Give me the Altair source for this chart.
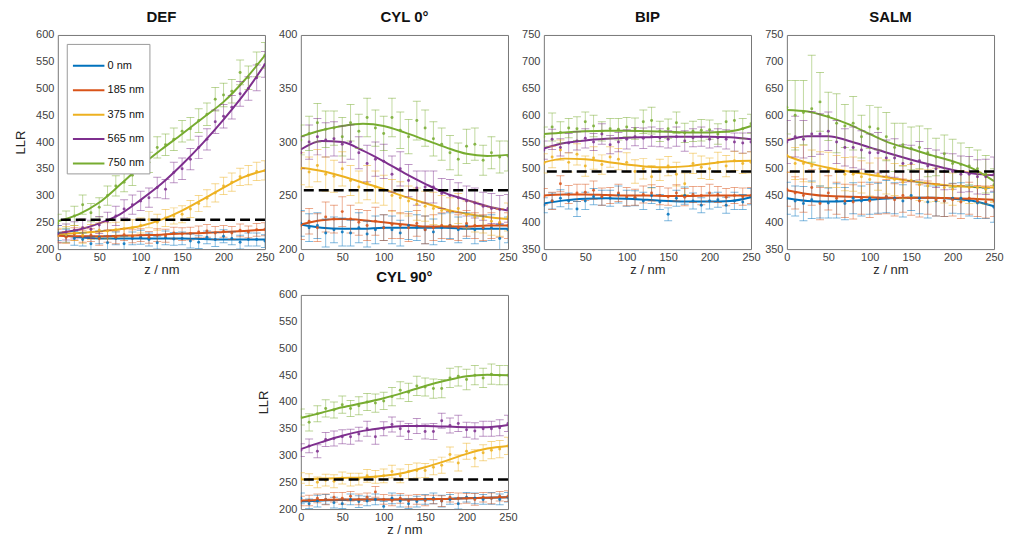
import altair as alt
import pandas as pd

SERIES = ["0 nm", "185 nm", "375 nm", "565 nm", "750 nm"]
COLORS = ["#0072BD", "#D95319", "#EDB120", "#7E2F8E", "#77AC30"]

Z_FIT = [0, 25, 50, 75, 100, 125, 150, 175, 200, 225, 250]
Z_PTS = [0, 10, 20, 30, 40, 50, 60, 70, 80, 90, 100, 110, 120, 130, 140, 150,
         160, 170, 180, 190, 200, 210, 220, 230, 240, 250]
X_TICKS = [0, 50, 100, 150, 200, 250]

# ---------------- DEF ----------------
DEF_FIT = [
    [228, 222, 220, 220, 220, 220, 220, 219, 218, 218, 218],
    [225, 224, 224, 225, 226, 227, 229, 230, 232, 234, 236],
    [228, 230, 233, 237, 243, 255, 272, 293, 315, 335, 347],
    [230, 236, 248, 265, 292, 322, 358, 398, 442, 490, 545],
    [252, 265, 287, 320, 355, 386, 415, 445, 475, 515, 562],
]
DEF_PTS = [
    [230, 225, 220, 218, 210, 222, 212, 220, 210, 220, 222, 218, 212, 221, 219, 220, 215, 213, 222, 218, 224, 220, 213, 218, 218, 215],
    [225, 222, 228, 224, 226, 220, 224, 222, 227, 224, 226, 222, 226, 225, 230, 228, 229, 232, 234, 230, 233, 230, 235, 232, 236, 237],
    [225, 227, 230, 226, 232, 235, 234, 236, 238, 240, 244, 255, 250, 258, 262, 265, 275, 285, 295, 305, 318, 325, 335, 338, 345, 347],
    [228, 232, 235, 240, 237, 245, 252, 262, 275, 283, 290, 296, 315, 312, 343, 350, 368, 390, 405, 438, 448, 465, 490, 500, 520, 545],
    [248, 255, 262, 283, 268, 278, 300, 318, 325, 338, 360, 362, 390, 395, 405, 420, 425, 440, 452, 480, 488, 495, 530, 520, 545, 562],
]
DEF_ERR = [
    [14, 12, 13, 12, 14, 12, 13, 12, 14, 12, 13, 12, 12, 13, 12, 12, 13, 12, 12, 13, 12, 12, 13, 12, 12, 12],
    [12, 11, 12, 11, 12, 13, 11, 12, 11, 12, 12, 11, 12, 12, 11, 12, 12, 11, 12, 12, 11, 12, 12, 11, 12, 12],
    [14, 15, 14, 15, 14, 14, 15, 14, 15, 15, 14, 15, 15, 16, 15, 16, 16, 15, 16, 17, 16, 17, 16, 18, 17, 18],
    [16, 15, 16, 16, 17, 16, 17, 18, 17, 18, 18, 18, 19, 18, 19, 20, 20, 21, 20, 22, 22, 22, 23, 22, 24, 24],
    [17, 16, 18, 18, 17, 18, 18, 19, 18, 19, 18, 19, 20, 20, 21, 20, 21, 22, 21, 22, 22, 22, 23, 22, 23, 24],
]

# ---------------- CYL 0 ----------------
CYL0_FIT = [
    [223, 220, 219, 219, 220, 220, 220, 220, 219, 219, 219],
    [223, 227, 228, 227, 225, 223, 221, 221, 221, 222, 222],
    [276, 273, 268, 262, 256, 249, 243, 237, 233, 230, 228],
    [293, 301, 300, 292, 282, 271, 261, 252, 246, 240, 236],
    [305, 311, 315, 317, 315, 309, 302, 295, 289, 287, 288],
]
CYL0_PTS = [
    [224, 220, 222, 215, 218, 216, 215, 220, 214, 218, 220, 218, 215, 222, 220, 218, 216, 220, 222, 218, 222, 218, 219, 220, 210, 218],
    [222, 226, 220, 230, 228, 235, 228, 225, 222, 226, 220, 223, 222, 220, 224, 218, 220, 222, 222, 220, 224, 222, 220, 222, 224, 222],
    [275, 272, 278, 270, 268, 275, 264, 258, 262, 258, 255, 250, 248, 245, 242, 240, 238, 236, 235, 238, 232, 230, 228, 226, 225, 230],
    [290, 300, 305, 302, 303, 298, 300, 290, 280, 284, 282, 270, 275, 264, 257, 258, 258, 252, 250, 248, 245, 243, 240, 238, 237, 238],
    [302, 308, 318, 312, 313, 305, 318, 310, 323, 313, 308, 323, 311, 305, 320, 313, 303, 298, 290, 284, 296, 298, 283, 290, 286, 287],
]
CYL0_ERR = [
    [12, 13, 12, 13, 12, 13, 12, 14, 12, 13, 12, 13, 12, 13, 12, 13, 12, 13, 12, 12, 12, 13, 12, 12, 13, 12],
    [13, 12, 13, 14, 13, 14, 13, 12, 14, 13, 12, 13, 12, 13, 12, 13, 12, 12, 13, 12, 12, 12, 12, 12, 13, 12],
    [15, 14, 15, 16, 15, 16, 14, 15, 16, 15, 14, 15, 15, 14, 15, 14, 15, 14, 13, 14, 13, 14, 13, 13, 13, 13],
    [15, 16, 17, 16, 16, 17, 16, 15, 17, 16, 16, 17, 16, 15, 16, 15, 15, 14, 15, 14, 14, 14, 13, 14, 13, 13],
    [14, 16, 18, 17, 16, 18, 17, 16, 18, 17, 16, 18, 17, 16, 18, 17, 16, 15, 16, 15, 16, 15, 14, 15, 15, 14],
]

# ---------------- BIP ----------------
BIP_FIT = [
    [435, 441, 444, 445, 444, 442, 440, 439, 439, 440, 447],
    [450, 452, 452, 451, 450, 450, 449, 449, 450, 450, 450],
    [512, 519, 518, 513, 508, 504, 503, 505, 510, 514, 515],
    [538, 548, 553, 556, 558, 559, 560, 560, 560, 559, 555],
    [565, 568, 570, 571, 571, 570, 569, 568, 568, 570, 580],
]
BIP_PTS = [
    [432, 440, 445, 440, 425, 440, 448, 446, 445, 452, 445, 445, 440, 450, 438, 415, 445, 450, 440, 432, 440, 442, 432, 440, 438, 448],
    [448, 440, 472, 452, 455, 456, 460, 448, 450, 455, 448, 447, 452, 455, 450, 448, 455, 447, 452, 450, 455, 452, 447, 450, 448, 450],
    [510, 522, 535, 512, 527, 505, 520, 508, 522, 518, 512, 495, 500, 485, 498, 505, 490, 472, 510, 503, 500, 512, 505, 515, 510, 512],
    [535, 555, 540, 548, 552, 557, 550, 565, 545, 550, 555, 560, 557, 560, 558, 555, 560, 552, 558, 560, 555, 558, 555, 550, 548, 550],
    [560, 578, 568, 576, 575, 588, 580, 570, 575, 574, 578, 575, 588, 590, 570, 575, 586, 567, 570, 572, 573, 565, 588, 590, 575, 584],
]
BIP_ERR = [
    [14, 15, 16, 15, 14, 16, 15, 14, 15, 16, 15, 14, 16, 15, 14, 12, 15, 16, 15, 14, 15, 14, 15, 16, 14, 15],
    [15, 16, 15, 17, 16, 15, 17, 16, 15, 16, 17, 15, 16, 15, 17, 16, 15, 16, 15, 17, 16, 15, 16, 15, 16, 15],
    [18, 20, 19, 18, 20, 19, 21, 18, 19, 20, 18, 22, 19, 21, 20, 18, 22, 20, 19, 21, 20, 19, 20, 18, 19, 20],
    [17, 19, 16, 18, 17, 18, 16, 19, 17, 18, 18, 17, 19, 18, 17, 16, 18, 19, 17, 18, 16, 17, 18, 17, 19, 18],
    [18, 26, 20, 18, 22, 18, 20, 18, 19, 20, 18, 20, 22, 25, 19, 18, 20, 18, 19, 20, 18, 19, 20, 18, 19, 18],
]

# ---------------- SALM ----------------
SALM_FIT = [
    [445, 440, 439, 440, 442, 445, 446, 446, 444, 440, 430],
    [460, 453, 449, 448, 447, 446, 446, 446, 445, 444, 442],
    [524, 511, 502, 495, 489, 483, 477, 472, 468, 466, 465],
    [553, 561, 561, 552, 540, 528, 517, 507, 498, 491, 488],
    [610, 607, 597, 583, 565, 548, 537, 525, 514, 500, 477],
]
SALM_PTS = [
    [445, 440, 435, 442, 438, 436, 440, 435, 445, 440, 445, 445, 448, 445, 440, 450, 445, 438, 440, 440, 445, 445, 440, 436, 435, 428],
    [462, 455, 450, 465, 435, 455, 445, 440, 438, 445, 440, 445, 448, 442, 450, 445, 440, 446, 442, 440, 442, 438, 445, 440, 438, 440],
    [525, 510, 510, 505, 500, 498, 495, 490, 490, 485, 480, 490, 485, 480, 475, 478, 470, 468, 470, 465, 462, 468, 465, 465, 462, 466],
    [550, 560, 555, 565, 565, 570, 550, 540, 540, 535, 530, 530, 520, 520, 510, 510, 515, 505, 500, 495, 495, 490, 490, 485, 485, 490],
    [615, 600, 605, 612, 625, 598, 585, 580, 585, 560, 578, 575, 560, 540, 545, 538, 540, 530, 522, 528, 510, 508, 505, 500, 490, 470],
]
SALM_ERR = [
    [30, 28, 32, 35, 30, 28, 32, 30, 29, 28, 30, 28, 30, 29, 30, 28, 29, 30, 28, 29, 28, 29, 28, 29, 28, 28],
    [32, 30, 31, 33, 30, 32, 30, 31, 32, 30, 31, 30, 32, 30, 31, 32, 30, 31, 30, 29, 30, 31, 30, 29, 30, 29],
    [32, 30, 34, 30, 32, 33, 30, 31, 32, 30, 31, 30, 32, 30, 31, 30, 29, 30, 31, 29, 30, 29, 30, 29, 28, 29],
    [40, 38, 35, 42, 38, 36, 40, 35, 38, 36, 35, 38, 34, 36, 35, 34, 36, 33, 35, 34, 33, 34, 33, 32, 33, 32],
    [50, 65, 60, 100, 55, 45, 55, 40, 50, 40, 40, 40, 45, 45, 40, 40, 40, 45, 35, 35, 45, 40, 35, 35, 35, 30],
]

# ---------------- CYL 90 ----------------
CYL90_FIT = [
    [214, 216, 217, 218, 218, 218, 218, 219, 220, 221, 222],
    [216, 217, 218, 218, 218, 218, 219, 219, 220, 221, 222],
    [255, 257, 258, 259, 262, 268, 278, 290, 303, 313, 318],
    [312, 325, 337, 346, 352, 355, 355, 354, 353, 353, 357],
    [370, 380, 390, 398, 407, 418, 430, 440, 448, 451, 450],
]
CYL90_PTS = [
    [220, 210, 215, 218, 212, 210, 218, 214, 215, 218, 205, 220, 215, 210, 214, 218, 220, 215, 218, 210, 222, 220, 218, 220, 218, 222],
    [215, 216, 220, 218, 222, 220, 224, 218, 222, 232, 218, 216, 220, 215, 218, 216, 218, 215, 222, 220, 220, 218, 222, 220, 224, 224],
    [258, 255, 250, 254, 252, 258, 255, 256, 262, 260, 262, 270, 262, 270, 272, 272, 278, 282, 302, 286, 308, 295, 305, 310, 312, 318],
    [310, 318, 308, 330, 332, 335, 335, 340, 350, 335, 350, 358, 350, 345, 355, 345, 345, 365, 356, 360, 348, 346, 350, 350, 352, 360],
    [372, 362, 378, 388, 385, 395, 388, 393, 400, 398, 402, 410, 422, 418, 430, 428, 425, 425, 445, 448, 442, 450, 445, 452, 450, 450],
]
CYL90_ERR = [
    [10, 9, 11, 9, 10, 9, 10, 11, 9, 10, 9, 10, 11, 9, 10, 9, 10, 11, 9, 10, 9, 10, 9, 11, 10, 9],
    [9, 10, 8, 10, 9, 11, 9, 10, 8, 10, 9, 10, 9, 11, 9, 10, 8, 10, 9, 10, 9, 11, 9, 10, 9, 10],
    [10, 11, 10, 11, 12, 11, 12, 11, 12, 12, 13, 12, 13, 13, 14, 13, 14, 15, 14, 15, 15, 16, 15, 16, 16, 16],
    [12, 13, 12, 13, 14, 13, 14, 13, 14, 14, 13, 14, 14, 15, 14, 14, 15, 14, 14, 15, 14, 15, 14, 14, 15, 15],
    [15, 16, 15, 16, 15, 16, 15, 17, 16, 17, 16, 17, 16, 17, 18, 17, 18, 17, 18, 18, 19, 18, 18, 19, 18, 18],
]

Y_TICKS_200_600 = [200, 250, 300, 350, 400, 450, 500, 550, 600]
Y_TICKS_200_400 = [200, 250, 300, 350, 400]
Y_TICKS_350_750 = [350, 400, 450, 500, 550, 600, 650, 700, 750]
THRESH_LOW = 255
THRESH_HIGH = 495

W, H = 208, 215
FONT = "Liberation Sans"


def panel(title, fits, pts, errs, yticks, thresh, xtitle, ytitle, legend):
    fit_rows, pt_rows = [], []
    for si, s in enumerate(SERIES):
        for z, v in zip(Z_FIT, fits[si]):
            fit_rows.append({"z": z, "v": v, "s": s})
        for z, v, e in zip(Z_PTS, pts[si], errs[si]):
            pt_rows.append({"z": z, "v": v, "lo": v - e, "hi": v + e, "s": s})
    dfit = pd.DataFrame(fit_rows)
    dpts = pd.DataFrame(pt_rows)

    color_scale = alt.Scale(domain=SERIES, range=COLORS)
    xenc = alt.X("z:Q", scale=alt.Scale(domain=[0, 250], nice=False),
                 axis=alt.Axis(values=X_TICKS, title=xtitle if xtitle else None,
                               labelFlush=False))
    ysc = alt.Scale(domain=[yticks[0], yticks[-1]], nice=False)
    yaxis = alt.Axis(values=yticks, title=ytitle if ytitle else None,
                     labelFlush=False, titlePadding=8, labelPadding=4)
    cnl = alt.Color("s:N", scale=color_scale, legend=None)
    if legend:
        cl = alt.Color("s:N", scale=color_scale, legend=alt.Legend(
            title=None, orient="top-left", offset=9, symbolType="stroke",
            symbolSize=1000, symbolStrokeWidth=2, labelFontSize=11,
            labelFont=FONT, labelColor="#111", fillColor="white",
            strokeColor="#999", padding=5, rowPadding=2.5,
            labelOffset=2))
    else:
        cl = cnl

    base = alt.Chart(dpts)
    err = base.mark_rule(strokeWidth=1, opacity=0.45, clip=True).encode(
        x=xenc, y=alt.Y("lo:Q", scale=ysc, axis=yaxis), y2="hi:Q", color=cnl)
    cap_lo = base.mark_tick(orient="horizontal", size=8, thickness=1,
                            opacity=0.5, clip=True).encode(
        x=xenc, y=alt.Y("lo:Q", scale=ysc, axis=yaxis), color=cnl)
    cap_hi = base.mark_tick(orient="horizontal", size=8, thickness=1,
                            opacity=0.5, clip=True).encode(
        x=xenc, y=alt.Y("hi:Q", scale=ysc, axis=yaxis), color=cnl)
    dots = base.mark_circle(size=9, opacity=0.85, clip=True).encode(
        x=xenc, y=alt.Y("v:Q", scale=ysc, axis=yaxis), color=cnl)
    line = alt.Chart(dfit).mark_line(strokeWidth=2, interpolate="monotone",
                                     clip=True).encode(
        x=xenc, y=alt.Y("v:Q", scale=ysc, axis=yaxis), color=cl)
    thr = alt.Chart(pd.DataFrame({"t": [thresh]})).mark_rule(
        color="black", strokeDash=[10, 5], strokeWidth=2.5).encode(
        y=alt.Y("t:Q", scale=ysc, axis=yaxis))
    return alt.layer(line, err, cap_lo, cap_hi, dots, thr).properties(
        width=W, height=H,
        title=alt.TitleParams(title, frame="group"))


p_def = panel("DEF", DEF_FIT, DEF_PTS, DEF_ERR, Y_TICKS_200_600, THRESH_LOW,
              "z / nm", "LLR", True)
p_cyl0 = panel("CYL 0°", CYL0_FIT, CYL0_PTS, CYL0_ERR, Y_TICKS_200_400,
               THRESH_LOW, None, None, False)
p_bip = panel("BIP", BIP_FIT, BIP_PTS, BIP_ERR, Y_TICKS_350_750, THRESH_HIGH,
              "z / nm", None, False)
p_salm = panel("SALM", SALM_FIT, SALM_PTS, SALM_ERR, Y_TICKS_350_750,
               THRESH_HIGH, "z / nm", None, False)
p_cyl90 = panel("CYL 90°", CYL90_FIT, CYL90_PTS, CYL90_ERR, Y_TICKS_200_600,
                THRESH_LOW, "z / nm", "LLR", False)

blank = alt.Chart(pd.DataFrame({"a": [0]})).mark_point(opacity=0).encode(
    x=alt.X("a:Q", axis=None), y=alt.Y("a:Q", axis=None)
).properties(width=W, height=H, view=alt.ViewBackground(strokeOpacity=0))

chart = alt.concat(p_def, p_cyl0, p_bip, p_salm, blank, p_cyl90,
                   columns=4, spacing={"row": 46, "column": 36},
                   bounds="flush").resolve_scale(
    color="independent"
).resolve_legend(
    color="independent"
).properties(
    padding={"left": 6, "top": 0, "right": 0, "bottom": 0}
).configure_view(
    stroke="#777", strokeWidth=1
).configure_axis(
    labelFont=FONT, labelFontSize=11, labelColor="#404040",
    titleFont=FONT, titleFontSize=13, titleFontWeight="normal",
    titleColor="#262626", domain=False, ticks=False, grid=False,
    labelPadding=2, titlePadding=2
).configure_title(
    font=FONT, fontSize=15, fontWeight="bold", color="#111", offset=0,
    anchor="middle"
)

chart.save("out.html", embed_options={"renderer": "svg", "actions": False})
